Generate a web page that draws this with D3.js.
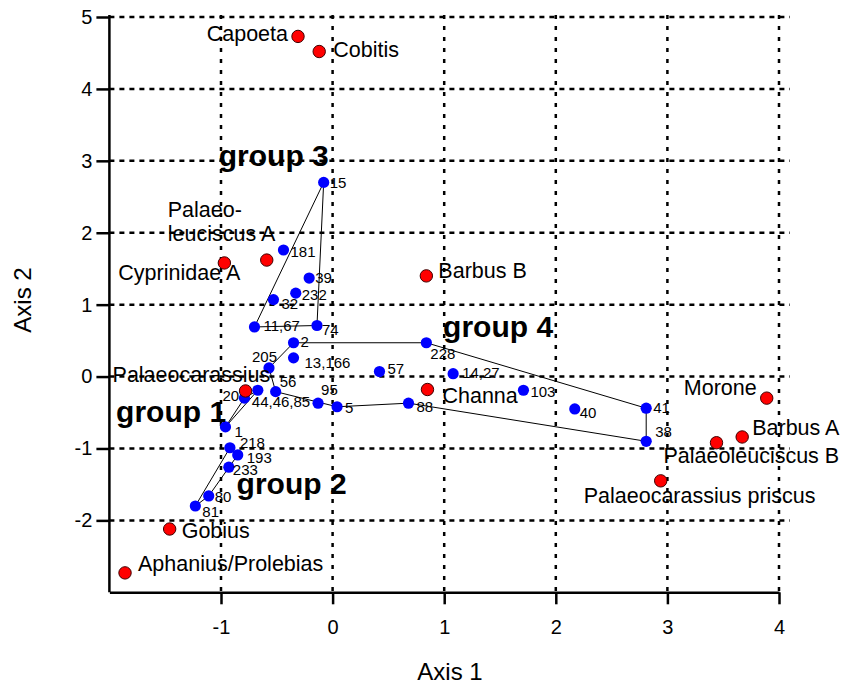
<!DOCTYPE html>
<html>
<head>
<meta charset="utf-8">
<script src="https://cdn.jsdelivr.net/npm/d3@7"></script>
<style>
  html, body { margin: 0; padding: 0; background: #fff; }
  svg { display: block; font-family: Arial, "Liberation Sans", sans-serif; }
</style>
</head>
<body>
<svg id="chart" width="842" height="684"></svg>
<script>
// ---------- data ----------
const xTicks = [-1, 0, 1, 2, 3, 4];
const yTicks = [-2, -1, 0, 1, 2, 3, 4, 5];

// reference taxa (red)
const taxonNames = ["Capoeta", "Cobitis", "Cyprinidae A", "Palaeo-\nleuciscus A", "Barbus B",
  "Palaeocarassius", "Channa", "Morone", "Barbus A", "Palaeoleuciscus B",
  "Palaeocarassius priscus", "Gobius", "Aphanius/Prolebias"];
const taxonAxis1 = [-0.31, -0.12, -0.97, -0.59, 0.84, -0.78, 0.85, 3.89, 3.67, 3.44, 2.94, -1.46, -1.86];
const taxonAxis2 = [4.73, 4.52, 1.58, 1.62, 1.40, -0.20, -0.18, -0.30, -0.84, -0.92, -1.45, -2.12, -2.73];

// samples (blue)
const sampleNames = ["15", "181", "39", "232", "32", "11,67", "74", "2", "13,166", "205", "56", "20",
  "44,46,85", "95", "5", "1", "218", "193", "233", "80", "81", "228", "57", "14,27", "103", "40",
  "88", "41", "38"];
const sampleAxis1 = [-0.08, -0.44, -0.21, -0.33, -0.53, -0.70, -0.14, -0.35, -0.35, -0.57, -0.51, -0.79,
  -0.67, -0.13, 0.04, -0.96, -0.92, -0.85, -0.93, -1.11, -1.23, 0.84, 0.42, 1.08, 1.71, 2.17,
  0.68, 2.81, 2.81];
const sampleAxis2 = [2.70, 1.76, 1.37, 1.16, 1.07, 0.69, 0.71, 0.47, 0.26, 0.12, -0.21, -0.30,
  -0.19, -0.37, -0.42, -0.70, -0.99, -1.09, -1.26, -1.66, -1.80, 0.47, 0.07, 0.04, -0.19, -0.45,
  -0.37, -0.44, -0.90];

// groups: outline vertices (sample names, in drawing order) and label anchor
const groupNames = ["group 1", "group 2", "group 3", "group 4"];
const groupOutlines = [
  ["1", "20", "44,46,85"],
  ["81", "218", "193", "80"],
  ["15", "74", "11,67"],
  ["2", "228", "41", "38", "88", "5", "56", "205"]
];
const groupLabelAxis1 = [-1.94, -0.86, -1.02, 0.99];
const groupLabelAxis2 = [-0.63, -1.63, 2.93, 0.55];

// ---------- label layout (pixel offsets from the point: dx, dy(baseline), anchor) ----------
const taxonLabelLayout = [
  [-10, 5, "end"], [14, 5, "start"], [-106, 17, "start"], [-99, -43, "start"], [12, 2, "start"],
  [-133, -9, "start"], [15, 13, "start"], [-10, -3, "end"], [10, -2, "start"], [-53, 20, "start"],
  [-77, 22, "start"], [12, 9, "start"], [13, -2, "start"]
];
const sampleLabelLayout = [
  [6, 6], [7, 7], [6, 5], [6, 7], [8, 9], [9, 4], [5, 9], [7, 4], [11, 10], [-17, -6], [4, -5], [-22, 3],
  [-6, 17], [3, -8], [8, 6], [9, 10], [10, 0], [9, 8], [4, 8], [6, 6], [7, 11], [4, 16], [8, 2], [9, 4],
  [7, 7], [5, 9], [8, 9], [7, 5], [9, -4]
];

// ---------- chart ----------
const svg = d3.select("#chart");
const x = d3.scaleLinear().domain([-2, 4]).range([109.4, 779]);
const y = d3.scaleLinear().domain([-3, 5]).range([592.3, 17]);

const gridRight = x(4) + 11;
const gridTop = y(5) - 2;

// grid
const grid = svg.append("g").attr("stroke", "#000").attr("fill", "none");
grid.selectAll("line.h").data(yTicks).join("line")
  .attr("class", "h")
  .attr("x1", x(-2)).attr("x2", gridRight)
  .attr("y1", d => y(d)).attr("y2", d => y(d))
  .attr("stroke-width", 2.5).attr("stroke-dasharray", "5,5");
grid.selectAll("line.v").data(xTicks).join("line")
  .attr("class", "v")
  .attr("x1", d => x(d)).attr("x2", d => x(d))
  .attr("y1", gridTop).attr("y2", y(-3))
  .attr("stroke-width", 2.5).attr("stroke-dasharray", "4,7");

// axes
const xAxis = svg.append("g")
  .attr("transform", `translate(0,${y(-3)})`)
  .call(d3.axisBottom(x).tickValues(xTicks).tickSize(12).tickSizeOuter(0).tickPadding(16).tickFormat(d3.format("d")));
const yAxis = svg.append("g")
  .attr("transform", `translate(${x(-2)},0)`)
  .call(d3.axisLeft(y).tickValues(yTicks).tickSize(13).tickSizeOuter(0).tickPadding(4).tickFormat(d3.format("d")));
[xAxis, yAxis].forEach(g => {
  g.select(".domain").attr("stroke", "#000").attr("stroke-width", 2.5);
  g.selectAll(".tick line").attr("stroke", "#000").attr("stroke-width", 2.5);
  g.selectAll(".tick text").attr("fill", "#000").attr("font-size", 20)
    .attr("font-family", "Arial, 'Liberation Sans', sans-serif")
    .text(d => d < 0 ? "-" + Math.abs(d) : String(d));
});
yAxis.select(".domain").attr("d", `M0,${y(-3)}V${y(5) - 2}`);

// axis titles
svg.append("text").attr("x", 450).attr("y", 680).attr("text-anchor", "middle")
  .attr("font-size", 24).text("Axis 1");
svg.append("text").attr("transform", "translate(31,300) rotate(-90)").attr("text-anchor", "middle")
  .attr("font-size", 24).text("Axis 2");

// samples
const samples = sampleNames.map((n, i) => ({ name: n, a1: sampleAxis1[i], a2: sampleAxis2[i], lay: sampleLabelLayout[i] }));
const byName = new Map(samples.map(s => [s.name, s]));
const taxa = taxonNames.map((n, i) => ({ name: n, a1: taxonAxis1[i], a2: taxonAxis2[i], lay: taxonLabelLayout[i] }));

// group outlines
const line = d3.line().x(d => x(d.a1)).y(d => y(d.a2));
svg.append("g").selectAll("path").data(groupOutlines).join("path")
  .attr("d", d => line(d.map(n => byName.get(n))) + "Z")
  .attr("fill", "none").attr("stroke", "#000").attr("stroke-width", 1);

// blue points
svg.append("g").selectAll("circle").data(samples).join("circle")
  .attr("cx", d => x(d.a1)).attr("cy", d => y(d.a2)).attr("r", 5.6)
  .attr("fill", "#0000ff");

// sample labels
svg.append("g").selectAll("text").data(samples).join("text")
  .attr("x", d => x(d.a1) + d.lay[0]).attr("y", d => y(d.a2) + d.lay[1])
  .attr("font-size", 15).attr("fill", "#000").text(d => d.name);

// taxon labels
const tl = svg.append("g").selectAll("text").data(taxa).join("text")
  .attr("x", d => x(d.a1) + d.lay[0]).attr("y", d => y(d.a2) + d.lay[1])
  .attr("text-anchor", d => d.lay[2])
  .attr("font-size", 21.5).attr("fill", "#000");
tl.each(function(d) {
  const parts = d.name.split("\n");
  const t = d3.select(this);
  parts.forEach((p, k) => {
    t.append("tspan").attr("x", x(d.a1) + d.lay[0]).attr("dy", k === 0 ? 0 : 24).text(p);
  });
});

// red points
svg.append("g").selectAll("circle").data(taxa).join("circle")
  .attr("cx", d => x(d.a1)).attr("cy", d => y(d.a2)).attr("r", 6.2)
  .attr("fill", "#ff0000").attr("stroke", "#400000").attr("stroke-width", 1);

// group labels
svg.append("g").selectAll("text").data(groupNames).join("text")
  .attr("x", (d, i) => x(groupLabelAxis1[i])).attr("y", (d, i) => y(groupLabelAxis2[i]))
  .attr("font-size", 30).attr("font-weight", "bold").attr("fill", "#000").text(d => d);
</script>
</body>
</html>
